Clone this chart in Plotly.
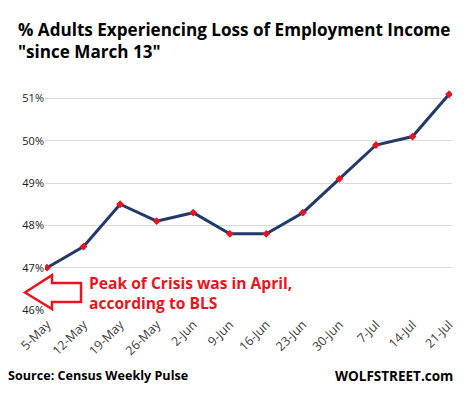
import plotly.graph_objects as go

categories = ["5-May", "12-May", "19-May", "26-May", "2-Jun", "9-Jun", "16-Jun",
              "23-Jun", "30-Jun", "7-Jul", "14-Jul", "21-Jul"]
values = [47.0, 47.5, 48.5, 48.1, 48.3, 47.8, 47.8, 48.3, 49.1, 49.9, 50.1, 51.1]
y_ticks = [46, 47, 48, 49, 50, 51]
y_tick_labels = ["46%", "47%", "48%", "49%", "50%", "51%"]

OFF = 8  # default page body margin
PW, PH = 469, 395            # page size
W, H = PW - OFF, PH - OFF    # figure size
# plot area in page pixel coordinates
X0, X1, Y0, Y1 = 45, 452, 89.5, 310
L, R, T, B = X0 - OFF, PW - X1, Y0 - OFF, PH - Y1
pw, ph = W - L - R, H - T - B

def px(x):
    return (x - X0) / pw

def py(y):
    return (Y1 - y) / ph

fig = go.Figure()
fig.add_trace(go.Scatter(
    x=list(range(len(categories))), y=values, mode="lines+markers",
    line=dict(color="#22396A", width=3),
    marker=dict(symbol="diamond", color="#E8141E", size=6),
    hoverinfo="skip", showlegend=False,
))

# hollow red arrow
pts = [(25, 292.5), (52, 275), (52, 283), (81, 283), (81, 302), (52, 302), (52, 309)]
path = "M " + " L ".join(f"{px(a):.4f},{py(b):.4f}" for a, b in pts) + " Z"
fig.add_shape(type="path", path=path, xref="paper", yref="paper",
              line=dict(color="#E8141E", width=2.5), fillcolor="white", layer="above")

fig.add_annotation(
    text="Peak of Crisis was in April,<br>according to BLS",
    xref="paper", yref="paper", x=px(87), y=py(293), xanchor="left", yanchor="middle",
    showarrow=False, align="left",
    font=dict(family="Open Sans", size=15.6, color="#E8141E", weight="bold"),
)
fig.add_annotation(
    text="Source: Census Weekly Pulse", xref="paper", yref="paper",
    x=px(6), y=py(376), xanchor="left", yanchor="middle", showarrow=False,
    font=dict(family="Open Sans", size=12.6, color="black", weight="bold"),
)
fig.add_annotation(
    text="WOLFSTREET.com", xref="paper", yref="paper",
    x=px(455), y=py(376), xanchor="right", yanchor="middle", showarrow=False,
    font=dict(family="Open Sans", size=13.5, color="black", weight="bold"),
)
fig.add_annotation(
    text='% Adults Experiencing Loss of Employment Income<br>"since March 13"',
    xref="paper", yref="paper", x=px(16), y=py(40), xanchor="left", yanchor="middle",
    showarrow=False, align="left",
    font=dict(family="Open Sans", size=17.1, color="black", weight="bold"),
)

fig.update_layout(
    width=W, height=H, margin=dict(l=L, r=R, t=T, b=B, autoexpand=False),
    paper_bgcolor="white", plot_bgcolor="white",
    xaxis=dict(range=[-0.055, 11.08], tickmode="array",
               tickvals=list(range(len(categories))), ticktext=categories,
               tickangle=-45, showgrid=False, zeroline=False, showline=False,
               automargin=False, ticklabelstandoff=4,
               tickfont=dict(family="Open Sans", size=12.5, color="#404040")),
    yaxis=dict(range=[46, 51.2], tickmode="array", tickvals=y_ticks,
               ticktext=y_tick_labels, showgrid=True, gridcolor="#D9D9D9",
               gridwidth=1, zeroline=False, showline=False, ticklen=0,
               automargin=False,
               tickfont=dict(family="Open Sans", size=11, color="#202020")),
)

fig.write_html("out.html")
